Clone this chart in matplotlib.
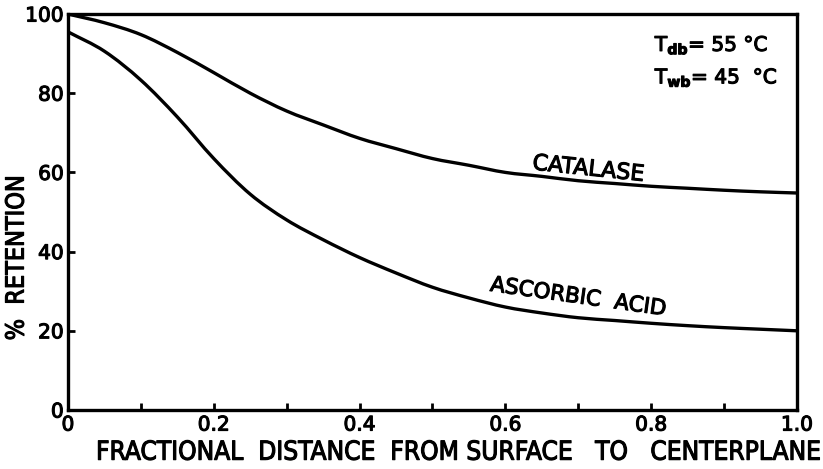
import numpy as np
import matplotlib.pyplot as plt
import matplotlib.patheffects as pe
from matplotlib.path import Path
from matplotlib.patches import PathPatch

# fractional distance from surface to centerplane
dist = [0.0, 0.05, 0.10, 0.15, 0.20, 0.25, 0.30, 0.35, 0.40, 0.45, 0.50,
        0.55, 0.60, 0.65, 0.70, 0.75, 0.80, 0.85, 0.90, 0.95, 1.0]

# % retention
catalase = [100.0, 97.8, 94.8, 90.3, 85.2, 80.0, 75.5, 72.0, 68.6, 66.0, 63.5,
            61.8, 60.0, 59.0, 57.9, 57.2, 56.5, 56.0, 55.5, 55.1, 54.8]
ascorbic = [95.5, 90.6, 83.3, 74.0, 63.5, 54.5, 48.0, 43.0, 38.5, 34.6, 31.0,
            28.3, 26.0, 24.5, 23.3, 22.6, 21.9, 21.3, 20.8, 20.4, 20.0]

xticks = [0, 0.2, 0.4, 0.6, 0.8, 1.0]
xtick_labels = ['0', '0.2', '0.4', '0.6', '0.8', '1.0']
yticks = [0, 20, 40, 60, 80, 100]
ytick_labels = ['0', '20', '40', '60', '80', '100']


def smooth_path(x, y):
    # Catmull-Rom through the points, written as cubic Bezier segments
    p = np.column_stack([x, y])
    ext = np.vstack([2 * p[0] - p[1], p, 2 * p[-1] - p[-2]])
    verts = [p[0]]
    codes = [Path.MOVETO]
    for i in range(1, len(ext) - 2):
        p0, p1, p2, p3 = ext[i - 1], ext[i], ext[i + 1], ext[i + 2]
        verts += [p1 + (p2 - p0) / 6, p2 - (p3 - p1) / 6, p2]
        codes += [Path.CURVE4] * 3
    return Path(verts, codes)


plt.rcParams['font.family'] = ['DejaVu Sans']
plt.rcParams['mathtext.default'] = 'bf'
# slightly heavier lettering than the regular face
heavy = [pe.withStroke(linewidth=0.8, foreground='black')]

fig = plt.figure(figsize=(8.23, 4.69), dpi=100)
ax = fig.add_axes([0.0826, 0.1258, 0.8858, 0.8443])

for series in (catalase, ascorbic):
    ax.add_patch(PathPatch(smooth_path(dist, series), fill=False,
                           edgecolor='black', lw=2.4))

ax.set_xlim(0, 1.0)
ax.set_ylim(0, 100)

ax.set_xticks(xticks)
ax.set_xticklabels(xtick_labels)
ax.set_xticks([0.1, 0.3, 0.5, 0.7, 0.9], minor=True)
ax.set_yticks(yticks)
ax.set_yticklabels(ytick_labels)

ax.tick_params(which='both', direction='in', length=5, width=2, labelsize=14.5, pad=3)
ax.tick_params(axis='x', pad=4)
for s in ax.spines.values():
    s.set_linewidth(2.4)
for lab in ax.get_xticklabels() + ax.get_yticklabels():
    lab.set_path_effects(heavy)

xl = ax.set_xlabel('FRACTIONAL  DISTANCE  FROM SURFACE   TO   CENTERPLANE',
                   fontsize=18.8, fontstretch='condensed')
ax.xaxis.set_label_coords(0.536, -0.075)
yl = ax.set_ylabel('%  RETENTION', fontsize=18, fontstretch='condensed')
ax.yaxis.set_label_coords(-0.054, 0.385)
xl.set_path_effects(heavy)
yl.set_path_effects(heavy)

t1 = ax.text(0.714, 60.8, 'CATALASE', fontsize=16, rotation=-6,
             ha='center', va='center')
t2 = ax.text(0.70, 28.5, 'ASCORBIC  ACID', fontsize=15.5, rotation=-8,
             ha='center', va='center')
t3 = ax.text(0.805, 92, r'T$_{db}$= 55 °C', fontsize=14.5, ha='left', va='center')
t4 = ax.text(0.805, 83.8, r'T$_{wb}$= 45  °C', fontsize=14.5, ha='left', va='center')
for t in (t1, t2, t3, t4):
    t.set_path_effects(heavy)

fig.savefig('out.png', dpi=100)
